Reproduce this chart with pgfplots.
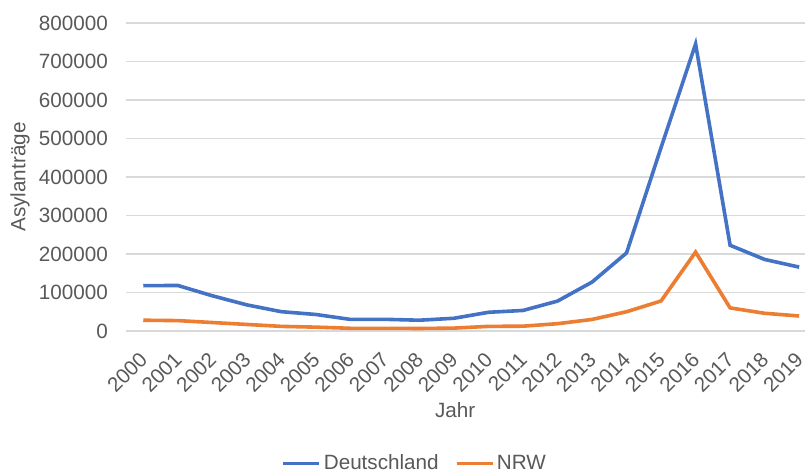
\documentclass[border=0pt]{standalone}
\usepackage{fontspec}
\setmainfont{Liberation Sans}
\usepackage{pgfplots}
\pgfplotsset{compat=1.18}

\definecolor{deblue}{HTML}{4472C4}
\definecolor{nrworange}{HTML}{ED7D31}
\definecolor{txtgray}{HTML}{595959}
\definecolor{gridgray}{HTML}{D9D9D9}

\begin{document}
\begin{tikzpicture}[x=1pt,y=1pt]
  \begin{axis}[
      at={(0,0)}, anchor=south west,
      scale only axis, width=509pt, height=231pt,
      xmin=1999.5, xmax=2019.16, ymin=0, ymax=800000,
      axis line style={draw=none},
      major tick length=0pt,
      ymajorgrids, grid style={gridgray, line width=1pt},
      xtick={2000,...,2019},
      ytick={0,100000,...,800000},
      /pgf/number format/assume math mode=true,
      /pgf/number format/1000 sep={},
      /pgf/number format/fixed,
      scaled y ticks=false,
      font=\fontsize{15.5}{18}\selectfont,
      tick label style={txtgray},
      yticklabel style={xshift=-10pt},
      xticklabel style={rotate=45, anchor=north east, inner sep=0pt, xshift=-13pt, yshift=-7.7pt},
      xlabel={Jahr}, ylabel={Asylanträge},
      label style={txtgray},
      xlabel style={at={(rel axis cs:0.485,-0.256)}, anchor=center},
      ylabel style={at={(rel axis cs:-0.156,0.5)}, anchor=center},
      legend style={at={(rel axis cs:0.426,-0.43)}, anchor=center,
        draw=none, legend columns=2, text=txtgray,
        /tikz/every even column/.append style={column sep=10pt}},
      legend image code/.code={\draw[#1] (0pt,0pt) -- (27pt,0pt);},
      legend cell align=left,
    ]
    \addplot[deblue, line width=2.7pt] coordinates {
      (2000,117648)(2001,118306)(2002,91471)(2003,67848)(2004,50152)
      (2005,42908)(2006,30100)(2007,30303)(2008,28018)(2009,33033)
      (2010,48589)(2011,53347)(2012,77651)(2013,127023)(2014,202834)
      (2015,476649)(2016,745545)(2017,222683)(2018,185853)(2019,165938)};
    \addlegendentry{Deutschland}
    \addplot[nrworange, line width=2.7pt] coordinates {
      (2000,28000)(2001,27000)(2002,22000)(2003,17000)(2004,12000)
      (2005,10000)(2006,7000)(2007,7000)(2008,6500)(2009,7500)
      (2010,12000)(2011,12500)(2012,19000)(2013,30000)(2014,50000)
      (2015,78000)(2016,205000)(2017,60000)(2018,46000)(2019,39000)};
    \addlegendentry{NRW}
  \end{axis}
  \pgfresetboundingbox
  \path (-94.5pt,-106.5pt) rectangle (512.25pt,248.25pt);
\end{tikzpicture}
\end{document}
